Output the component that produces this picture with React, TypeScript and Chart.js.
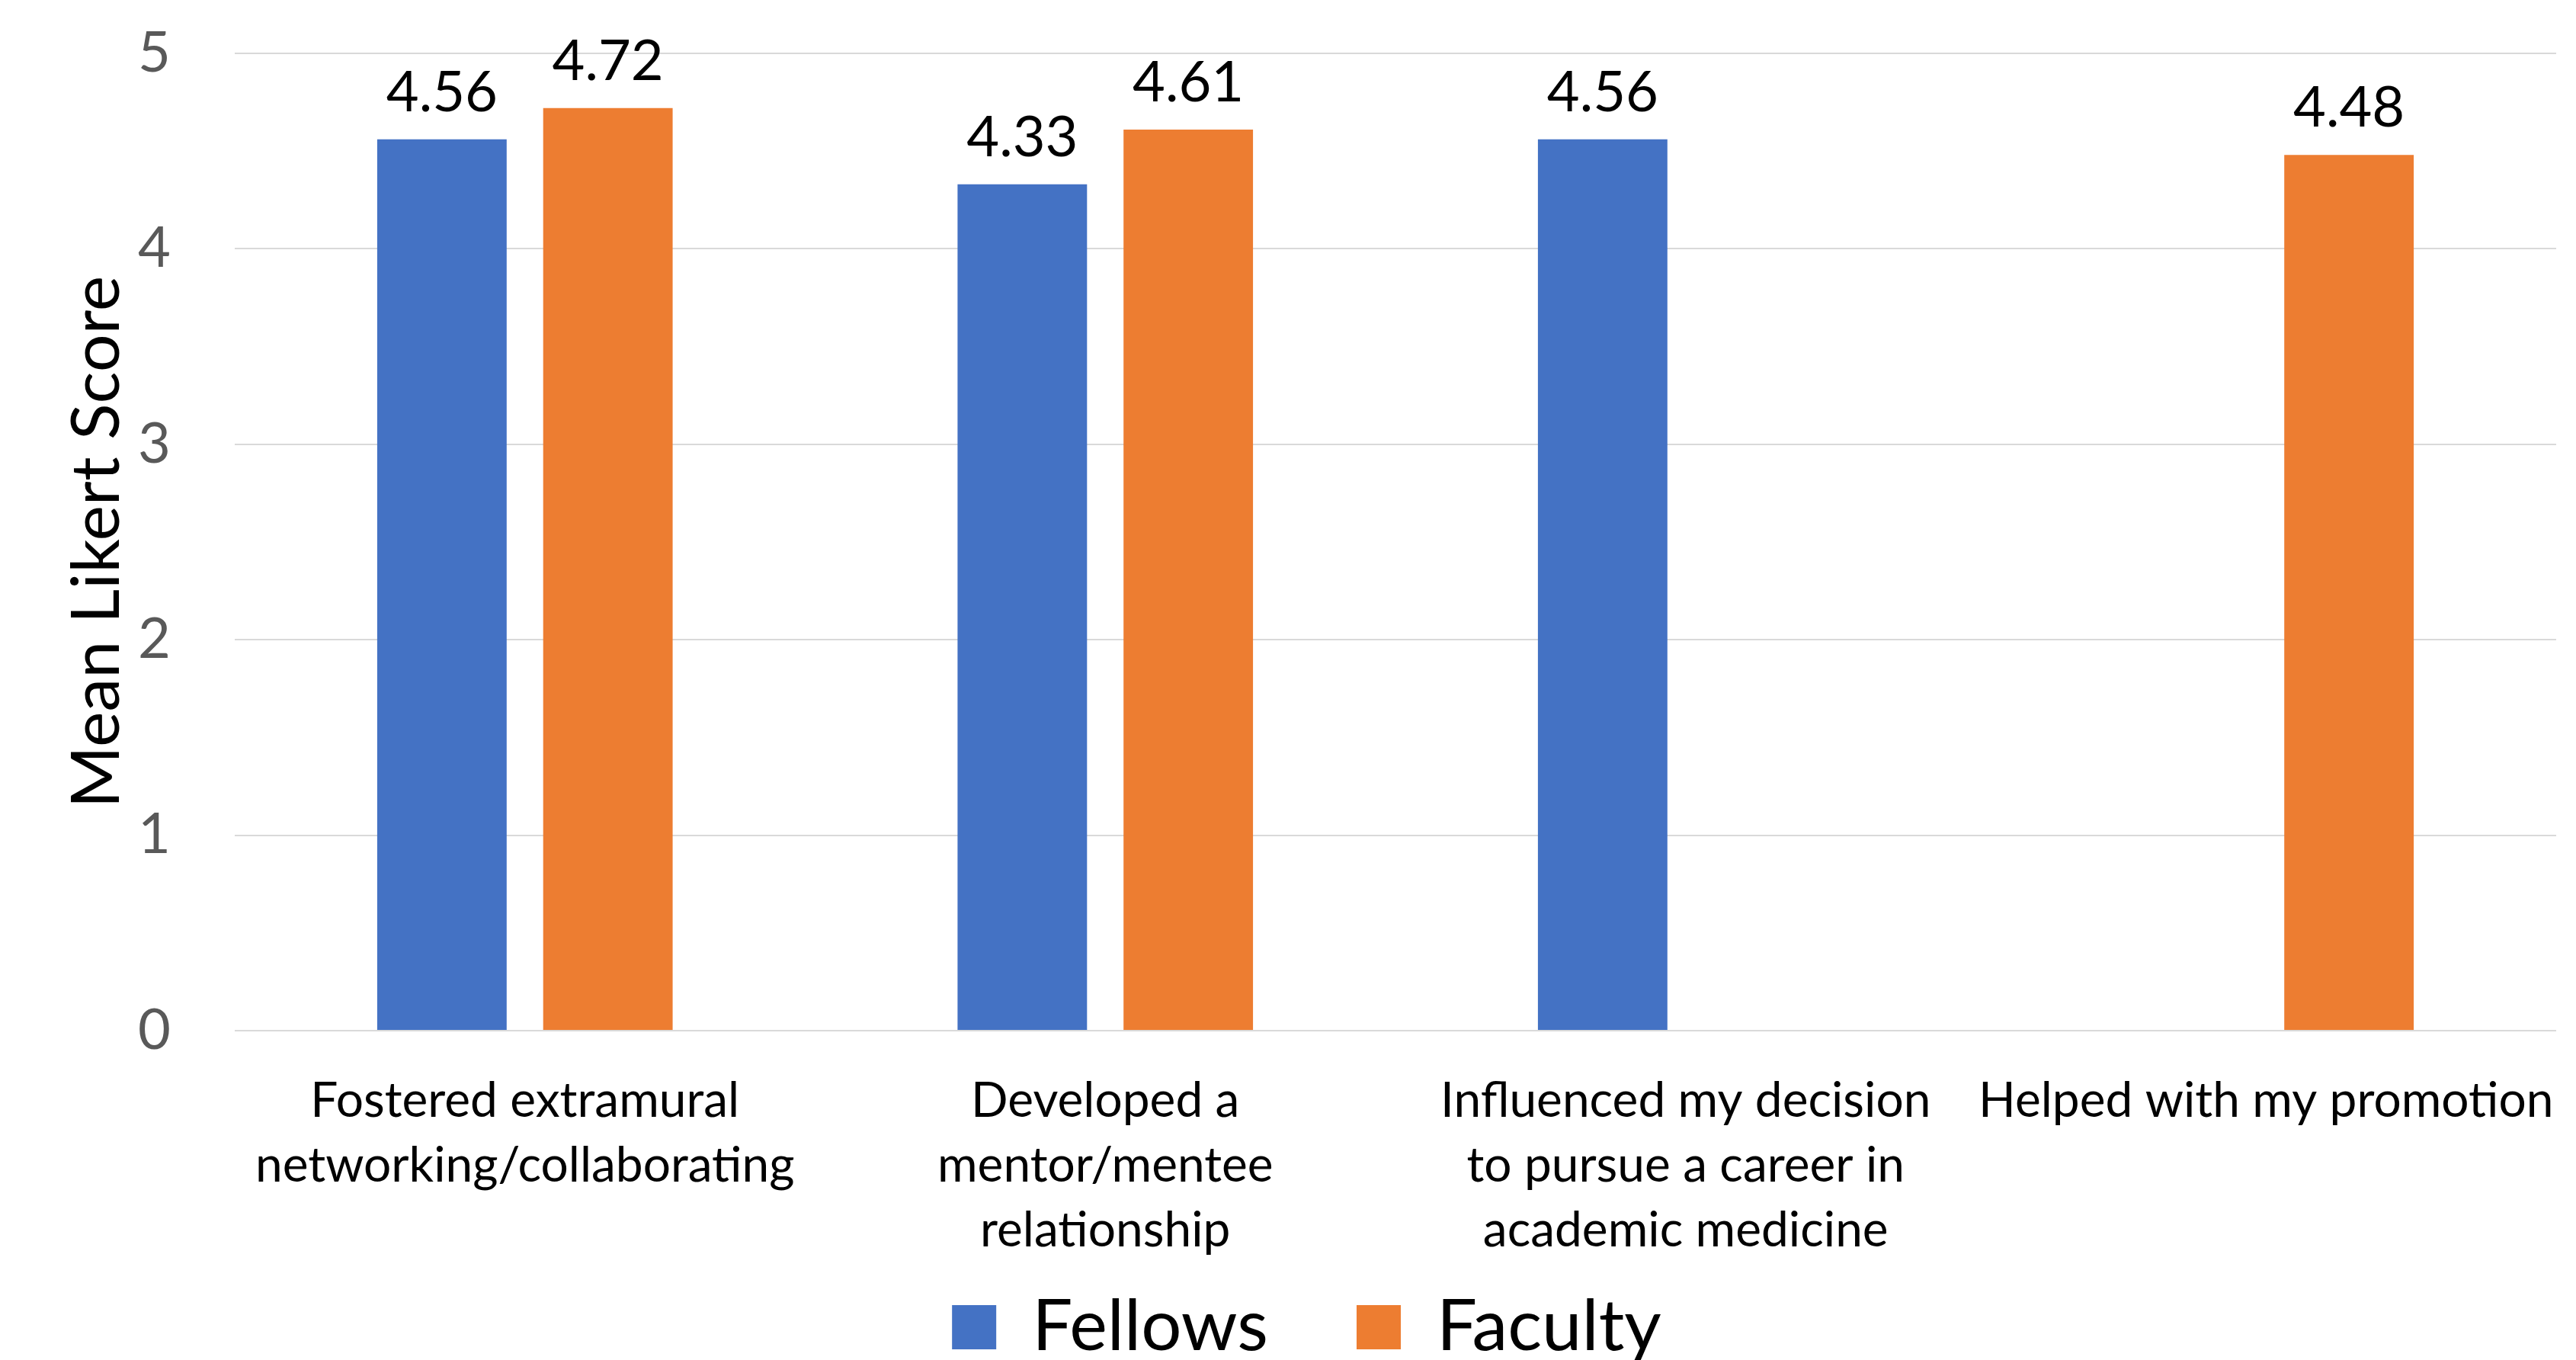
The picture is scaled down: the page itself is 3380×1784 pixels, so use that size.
import React, { useEffect, useRef } from "react";
import { Chart, registerables } from "chart.js";

Chart.register(...registerables);

const categories: string[][] = [
  ["Fostered extramural", "networking/collaborating"],
  ["Developed a", "mentor/mentee", "relationship"],
  ["Influenced my decision", "to pursue a career in", "academic medicine"],
  ["Helped with my promotion"],
];
const fellowsValues: (number | null)[] = [4.56, 4.33, 4.56, null];
const facultyValues: (number | null)[] = [4.72, 4.61, null, 4.48];
const yTicks: number[] = [0, 1, 2, 3, 4, 5];
const seriesNames: string[] = ["Fellows", "Faculty"];
const yTitle = "Mean Likert Score";

const FONT = "Lato, 'Noto Sans', sans-serif";

const valueLabelPlugin = {
  id: "valueLabels",
  afterDatasetsDraw(chart: any) {
    const ctx = chart.ctx;
    ctx.save();
    ctx.font = `74px ${FONT}`;
    ctx.fillStyle = "#000000";
    ctx.textAlign = "center";
    ctx.textBaseline = "alphabetic";
    chart.data.datasets.forEach((ds: any, di: number) => {
      const meta = chart.getDatasetMeta(di);
      meta.data.forEach((el: any, i: number) => {
        const v = ds.data[i];
        if (v === null || v === undefined) return;
        ctx.fillText(Number(v).toFixed(2), el.x, el.y - 37);
      });
    });
    ctx.restore();
  },
};

export default function App() {
  const canvasRef = useRef<HTMLCanvasElement | null>(null);

  useEffect(() => {
    document.body.style.margin = "0";
    const canvas = canvasRef.current;
    if (!canvas) return;
    const chart = new Chart(canvas, {
      type: "bar",
      data: {
        labels: categories,
        datasets: [
          {
            label: seriesNames[0],
            data: fellowsValues,
            backgroundColor: "#4472C4",
            borderWidth: 0,
            categoryPercentage: 0.572,
            barPercentage: 0.78,
          },
          {
            label: seriesNames[1],
            data: facultyValues,
            backgroundColor: "#ED7D31",
            borderWidth: 0,
            categoryPercentage: 0.572,
            barPercentage: 0.78,
          },
        ],
      },
      options: {
        responsive: false,
        animation: false,
        devicePixelRatio: 1,
        layout: { padding: { top: 70, left: 75, right: 26, bottom: -14 } },
        plugins: {
          legend: {
            position: "bottom",
            labels: {
              font: { family: FONT, size: 94 },
              color: "#000000",
              boxWidth: 58,
              boxHeight: 58,
              padding: 116,
            },
          },
          tooltip: { enabled: false },
          title: { display: false },
        },
        scales: {
          x: {
            grid: { display: false, drawTicks: false },
            border: { display: false },
            ticks: {
              font: { family: FONT, size: 64, lineHeight: 1.33 },
              color: "#000000",
              padding: 50,
              maxRotation: 0,
              minRotation: 0,
              autoSkip: false,
            },
            afterFit: (scale: any) => {
              scale.height = 226;
              scale.paddingLeft = 0;
              scale.paddingRight = 0;
              // let multi-line category labels extend into the legend band
              scale._computeLabelArea = () => undefined;
            },
          },
          y: {
            min: 0,
            max: 5,
            afterBuildTicks: (scale: any) => {
              scale.ticks = yTicks.map((v) => ({ value: v }));
            },
            grid: { color: "#D9D9D9", lineWidth: 2, drawTicks: false },
            border: { display: false },
            ticks: {
              font: { family: FONT, size: 74 },
              color: "#595959",
              padding: 84,
            },
            title: {
              display: true,
              text: yTitle,
              font: { family: FONT, size: 88, lineHeight: 1.2 },
              color: "#000000",
              padding: { top: 0, bottom: 0 },
            },
            afterFit: (scale: any) => {
              scale.width = 233;
              scale.paddingTop = 40;
              scale.paddingBottom = 40;
            },
          },
        },
      },
      plugins: [valueLabelPlugin],
    });
    return () => {
      chart.destroy();
    };
  }, []);

  return (
    <canvas
      ref={canvasRef}
      width={3380}
      height={1784}
      style={{ display: "block", width: 3380, height: 1784 }}
    />
  );
}
